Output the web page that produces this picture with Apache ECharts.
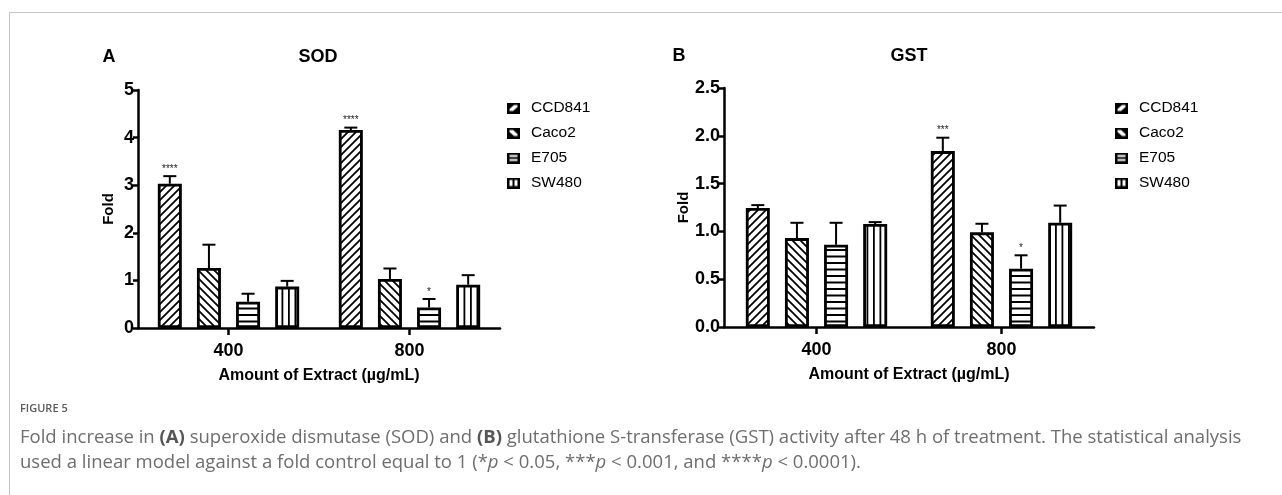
<!DOCTYPE html>
<html>
<head>
<meta charset="utf-8">
<script src="https://cdn.jsdelivr.net/npm/echarts@6/dist/echarts.min.js"></script>
<style>
html,body{margin:0;padding:0;background:#fff;}
#wrap{position:relative;width:1282px;height:495px;overflow:hidden;background:#fff;}
#chart{position:absolute;left:0;top:0;width:1282px;height:495px;}
#frameTop{position:absolute;left:9px;top:12px;width:1273px;height:1px;background:#c4c4c4;}
#frameLeft{position:absolute;left:9px;top:12px;width:1px;height:483px;background:#c4c4c4;}
.cap{position:absolute;left:20px;font-family:'Open Sans','Noto Sans',sans-serif;color:#6e6e6e;white-space:nowrap;line-height:1;}
#fig{top:402px;font-size:11px;font-weight:600;letter-spacing:0px;color:#5a5a5a;}
#l1{top:427px;font-size:15px;}
#l2{top:452px;font-size:15px;}
.cap b{font-weight:700;color:#555;}
</style>
</head>
<body>
<div id="wrap">
  <div id="chart"></div>
  <div id="frameTop"></div>
  <div id="frameLeft"></div>
  <div id="fig" class="cap">FIGURE 5</div>
  <div id="l1" class="cap">Fold increase in <b>(A)</b> superoxide dismutase (SOD) and <b>(B)</b> glutathione S-transferase (GST) activity after 48 h of treatment. The statistical analysis</div>
  <div id="l2" class="cap">used a linear model against a fold control equal to 1 (*<i>p</i> &lt; 0.05, ***<i>p</i> &lt; 0.001, and ****<i>p</i> &lt; 0.0001).</div>
</div>
<script>
// ---------------- DATA ----------------
const categories = ['400', '800'];
const seriesNames = ['CCD841', 'Caco2', 'E705', 'SW480'];

// SOD (panel A)
const sodCCD841 = [3.03, 4.16];
const sodCCD841Err = [0.16, 0.05];
const sodCaco2 = [1.26, 1.03];
const sodCaco2Err = [0.49, 0.22];
const sodE705 = [0.55, 0.43];
const sodE705Err = [0.17, 0.18];
const sodSW480 = [0.87, 0.91];
const sodSW480Err = [0.12, 0.20];
const sodStarsCCD841 = ['****', '****'];
const sodStarsCaco2 = ['', ''];
const sodStarsE705 = ['', '*'];
const sodStarsSW480 = ['', ''];
const sodYTicks = ['0', '1', '2', '3', '4', '5'];

// GST (panel B)
const gstCCD841 = [1.245, 1.84];
const gstCCD841Err = [0.03, 0.14];
const gstCaco2 = [0.93, 0.99];
const gstCaco2Err = [0.16, 0.09];
const gstE705 = [0.86, 0.61];
const gstE705Err = [0.23, 0.14];
const gstSW480 = [1.077, 1.09];
const gstSW480Err = [0.02, 0.18];
const gstStarsCCD841 = ['', '***'];
const gstStarsCaco2 = ['', ''];
const gstStarsE705 = ['', '*'];
const gstStarsSW480 = ['', ''];
const gstYTicks = ['0.0', '0.5', '1.0', '1.5', '2.0', '2.5'];

// ---------------- STYLE ----------------
const FONT = 'Arial, "Liberation Sans", sans-serif';
const BAR_W = 24;
const BAR_GAP = 0.63;
const CAP = 6.5;

function makeCanvas(w, h) {
  const c = document.createElement('canvas');
  c.width = w; c.height = h;
  return c;
}
function pattern(kind) {
  let c, ctx;
  if (kind === 'fwd' || kind === 'back') {
    const s = 8;
    c = makeCanvas(s, s); ctx = c.getContext('2d');
    ctx.fillStyle = '#fff'; ctx.fillRect(0, 0, s, s);
    ctx.strokeStyle = '#000'; ctx.lineWidth = 1.8;
    ctx.beginPath();
    if (kind === 'fwd') {
      ctx.moveTo(-1, s + 1); ctx.lineTo(s + 1, -1);
      ctx.moveTo(-1, 1); ctx.lineTo(1, -1);
      ctx.moveTo(s - 1, s + 1); ctx.lineTo(s + 1, s - 1);
    } else {
      ctx.moveTo(-1, -1); ctx.lineTo(s + 1, s + 1);
      ctx.moveTo(s - 1, -1); ctx.lineTo(s + 1, 1);
      ctx.moveTo(-1, s - 1); ctx.lineTo(1, s + 1);
    }
    ctx.stroke();
  } else if (kind === 'h') {
    c = makeCanvas(4, 13); ctx = c.getContext('2d');
    ctx.fillStyle = '#fff'; ctx.fillRect(0, 0, 4, 13);
    ctx.fillStyle = '#000';
    ctx.fillRect(0, 2, 4, 2); ctx.fillRect(0, 8.5, 4, 2);
  } else {
    c = makeCanvas(13, 4); ctx = c.getContext('2d');
    ctx.fillStyle = '#fff'; ctx.fillRect(0, 0, 13, 4);
    ctx.fillStyle = '#000';
    ctx.fillRect(2, 0, 1.8, 4); ctx.fillRect(8.5, 0, 1.8, 4);
  }
  return { image: c, repeat: 'repeat' };
}
function legendIcon(kind) {
  const w = 13, h = 11;
  const c = makeCanvas(w, h); const ctx = c.getContext('2d');
  ctx.fillStyle = '#000'; ctx.fillRect(0, 0, w, h);
  ctx.fillStyle = '#fff';
  ctx.beginPath();
  if (kind === 'fwd') {
    ctx.moveTo(2.5, 6.5); ctx.lineTo(7, 2.5); ctx.lineTo(10.5, 2.5); ctx.lineTo(10.5, 4.5); ctx.lineTo(6, 8.5); ctx.lineTo(2.5, 8.5);
    ctx.closePath(); ctx.fill();
  } else if (kind === 'back') {
    ctx.moveTo(2.5, 2.5); ctx.lineTo(6, 2.5); ctx.lineTo(10.5, 6.5); ctx.lineTo(10.5, 8.5); ctx.lineTo(7, 8.5); ctx.lineTo(2.5, 4.5);
    ctx.closePath(); ctx.fill();
  } else if (kind === 'h') {
    ctx.fillRect(2.5, 2.5, 8, 2); ctx.fillRect(2.5, 6.5, 8, 2);
  } else {
    ctx.fillRect(2.5, 2.5, 3, 6); ctx.fillRect(7.5, 2.5, 3, 6);
  }
  return 'image://' + c.toDataURL();
}
const kinds = ['fwd', 'back', 'h', 'v'];
const patterns = kinds.map(pattern);
const icons = kinds.map(legendIcon);

function barSeries(gi, si, data) {
  return {
    type: 'bar', name: seriesNames[si], xAxisIndex: gi, yAxisIndex: gi,
    data: data, barWidth: BAR_W, barGap: (BAR_GAP * 100) + '%',
    itemStyle: { color: patterns[si], borderColor: '#000', borderWidth: 2.8 },
    emphasis: { disabled: true }, silent: true, z: 2
  };
}
function errSeries(gi, si, means, errs, stars) {
  return {
    type: 'custom', xAxisIndex: gi, yAxisIndex: gi, z: 5, silent: true,
    data: means.map((m, i) => [i, m, errs[i]]),
    renderItem: function (params, api) {
      const ci = api.value(0), m = api.value(1), e = api.value(2);
      const offset = (si - 1.5) * BAR_W * (1 + BAR_GAP);
      const x = api.coord([ci, 0])[0] + offset;
      const y1 = api.coord([ci, m])[1];
      const y2 = api.coord([ci, m + e])[1];
      const ls = { stroke: '#000', lineWidth: 2 };
      const children = [
        { type: 'line', shape: { x1: x, y1: y1, x2: x, y2: y2 }, style: ls },
        { type: 'line', shape: { x1: x - CAP, y1: y2, x2: x + CAP, y2: y2 }, style: ls }
      ];
      const s = stars[params.dataIndex];
      if (s) {
        children.push({ type: 'text', x: x, y: y2 - 7,
          style: { text: s, font: '10px ' + FONT, fill: '#222', align: 'center', verticalAlign: 'middle' } });
      }
      return { type: 'group', children: children };
    }
  };
}

const axisLine = { show: true, lineStyle: { color: '#000', width: 2.5 } };
function xAxis(gi) {
  return {
    type: 'category', gridIndex: gi, data: categories,
    axisLine: axisLine,
    axisTick: { show: true, alignWithLabel: true, length: 7, lineStyle: { color: '#000', width: 2.5 } },
    axisLabel: { color: '#000', fontFamily: FONT, fontWeight: 'bold', fontSize: 18, margin: 14 },
    splitLine: { show: false },
    name: 'Amount of Extract (µg/mL)', nameLocation: 'middle', nameGap: 40,
    nameTextStyle: { color: '#000', fontFamily: FONT, fontWeight: 'bold', fontSize: 16 }
  };
}
function yAxis(gi, max, interval, ticks, gap) {
  return {
    type: 'value', gridIndex: gi, min: 0, max: max, interval: interval,
    axisLine: axisLine,
    axisTick: { show: true, length: 5, lineStyle: { color: '#000', width: 2.5 } },
    axisLabel: { color: '#000', fontFamily: FONT, fontWeight: 'bold', fontSize: 18, margin: 4,
      formatter: function (v, idx) { return ticks[idx]; } },
    splitLine: { show: false },
    name: 'Fold', nameLocation: 'middle', nameGap: gap, nameRotate: 90,
    nameTextStyle: { color: '#000', fontFamily: FONT, fontWeight: 'bold', fontSize: 15 }
  };
}
function legend(left) {
  return {
    orient: 'vertical', left: left, top: 95, itemWidth: 13, itemHeight: 11, itemGap: 9,
    selectedMode: false,
    data: seriesNames.map((n, i) => ({ name: n, icon: icons[i] })),
    textStyle: { color: '#000', fontFamily: FONT, fontSize: 15.5, lineHeight: 16, padding: [0, 0, 0, 6] }
  };
}

const option = {
  animation: false,
  backgroundColor: 'transparent',
  grid: [
    { left: 138, top: 90, width: 362, height: 238, containLabel: false },
    { left: 724, top: 88, width: 370, height: 239, containLabel: false }
  ],
  xAxis: [xAxis(0), xAxis(1)],
  yAxis: [yAxis(0, 5, 1, sodYTicks, 22), yAxis(1, 2.5, 0.5, gstYTicks, 33)],
  legend: [legend(502), legend(1110)],
  graphic: [
    { type: 'text', x: 109, y: 57, style: { text: 'A', font: 'bold 18px ' + FONT, fill: '#000', align: 'center', verticalAlign: 'middle' } },
    { type: 'text', x: 318, y: 57, style: { text: 'SOD', font: 'bold 18px ' + FONT, fill: '#000', align: 'center', verticalAlign: 'middle' } },
    { type: 'text', x: 679, y: 56, style: { text: 'B', font: 'bold 18px ' + FONT, fill: '#000', align: 'center', verticalAlign: 'middle' } },
    { type: 'text', x: 909, y: 56, style: { text: 'GST', font: 'bold 18px ' + FONT, fill: '#000', align: 'center', verticalAlign: 'middle' } }
  ],
  series: [
    barSeries(0, 0, sodCCD841), barSeries(0, 1, sodCaco2), barSeries(0, 2, sodE705), barSeries(0, 3, sodSW480),
    barSeries(1, 0, gstCCD841), barSeries(1, 1, gstCaco2), barSeries(1, 2, gstE705), barSeries(1, 3, gstSW480),
    errSeries(0, 0, sodCCD841, sodCCD841Err, sodStarsCCD841),
    errSeries(0, 1, sodCaco2, sodCaco2Err, sodStarsCaco2),
    errSeries(0, 2, sodE705, sodE705Err, sodStarsE705),
    errSeries(0, 3, sodSW480, sodSW480Err, sodStarsSW480),
    errSeries(1, 0, gstCCD841, gstCCD841Err, gstStarsCCD841),
    errSeries(1, 1, gstCaco2, gstCaco2Err, gstStarsCaco2),
    errSeries(1, 2, gstE705, gstE705Err, gstStarsE705),
    errSeries(1, 3, gstSW480, gstSW480Err, gstStarsSW480)
  ]
};
const chart = echarts.init(document.getElementById('chart'), null, { renderer: 'canvas' });
chart.setOption(option);

// caption: first line fitted to the frame width, same size for the second line
(function () {
  const l1 = document.getElementById('l1'), l2 = document.getElementById('l2');
  const target1 = 1222;
  const w1 = l1.getBoundingClientRect().width;
  if (w1 > 0) {
    const fs = 15 * target1 / w1;
    l1.style.fontSize = fs + 'px';
    l2.style.fontSize = fs + 'px';
  }
})();
</script>
</body>
</html>
